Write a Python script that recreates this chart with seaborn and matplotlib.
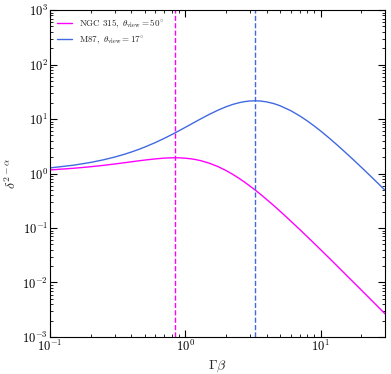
import numpy as np
import pandas as pd
import matplotlib
matplotlib.use("Agg")
import matplotlib.pyplot as plt
from matplotlib.ticker import FuncFormatter, LogLocator, NullFormatter
import seaborn as sns

# Gamma*beta values (x axis)
gamma_beta = [0.1, 0.15, 0.2, 0.25, 0.3, 0.35, 0.4, 0.45, 0.5, 0.6, 0.7, 0.8,
              0.84, 0.9, 1.0, 1.1, 1.2, 1.3, 1.5, 1.75, 2.0, 2.25, 2.5, 2.75,
              3.0, 3.3, 3.6, 4.0, 4.5, 5.0, 6.0, 7.0, 8.0, 9.0, 10.0, 11.5,
              13.0, 14.5, 16.0, 18.0, 20.0, 22.5, 25.0, 27.5, 30.0]

# delta^(2-alpha)
ngc315 = [1.165, 1.25, 1.334, 1.416, 1.496, 1.572, 1.643, 1.708, 1.766, 1.858,
          1.918, 1.945, 1.947, 1.942, 1.913, 1.864, 1.799, 1.723, 1.553, 1.336,
          1.135, 0.961, 0.814, 0.692, 0.591, 0.493, 0.415, 0.333, 0.259, 0.205,
          0.135, 0.0943, 0.0686, 0.0517, 0.0401, 0.0285, 0.0211, 0.0161,
          0.0126, 0.00944, 0.00727, 0.00543, 0.00417, 0.00329, 0.00265]
m87 = [1.268, 1.426, 1.600, 1.793, 2.005, 2.236, 2.488, 2.760, 3.053, 3.702,
       4.432, 5.239, 5.581, 6.114, 7.048, 8.027, 9.041, 10.08, 12.15, 14.62,
       16.81, 18.61, 19.98, 20.92, 21.45, 21.63, 21.41, 20.64, 19.24, 17.60,
       14.31, 11.46, 9.19, 7.42, 6.05, 4.54, 3.49, 2.74, 2.19, 1.671, 1.305,
       0.987, 0.766, 0.608, 0.492]

labels = [r'$\mathrm{NGC\ 315},\ \theta_{\rm view}=50^{\circ}$',
          r'$\mathrm{M87},\ \theta_{\rm view}=17^{\circ}$']
colors = ['#ff00ff', '#4169e1']
peak_x = [0.839, 3.27]  # Gamma*beta of maximum Doppler boost

df = pd.DataFrame({
    'gb': gamma_beta * 2,
    'val': ngc315 + m87,
    'source': [labels[0]] * len(gamma_beta) + [labels[1]] * len(gamma_beta),
})

sns.set_theme(style='ticks')
plt.rcParams['mathtext.fontset'] = 'cm'
plt.rcParams['font.family'] = ['DejaVu Serif']

fig = plt.figure(figsize=(3.91, 3.74), dpi=100)
ax = fig.add_axes([0.128, 0.099, 0.857, 0.874])

sns.lineplot(data=df, x='gb', y='val', hue='source', palette=colors,
             linewidth=1.0, ax=ax)
for px, c in zip(peak_x, colors):
    ax.axvline(px, color=c, ls='--', lw=1.0)

ax.set_xscale('log')
ax.set_yscale('log')
ax.set_xlim(0.1, 30)
ax.set_ylim(1e-3, 1e3)

fmt = FuncFormatter(lambda v, p: r'$10^{%d}$' % int(round(np.log10(v))))
ax.xaxis.set_major_formatter(fmt)
ax.yaxis.set_major_formatter(fmt)
ax.xaxis.set_minor_formatter(NullFormatter())
ax.yaxis.set_minor_formatter(NullFormatter())
ax.yaxis.set_major_locator(LogLocator(base=10, numticks=10))
ax.yaxis.set_minor_locator(LogLocator(base=10, subs=np.arange(2, 10), numticks=20))

ax.tick_params(which='both', direction='in', top=True, right=True,
               labelsize=9, colors='black', pad=1.5)
ax.tick_params(which='major', length=5, width=0.8)
ax.tick_params(which='minor', length=2.5, width=0.6)
for s in ax.spines.values():
    s.set_color('black')
    s.set_linewidth(0.8)

ax.set_xlabel(r'$\Gamma\beta$', fontsize=10, labelpad=3)
ax.set_ylabel(r'$\delta^{2-\alpha}$', fontsize=10, labelpad=2)

leg = ax.legend(loc='upper left', frameon=False, fontsize=6.5,
                handlelength=1.6, borderaxespad=0.4)
leg.set_title(None)

fig.savefig('out.png', dpi=100)
